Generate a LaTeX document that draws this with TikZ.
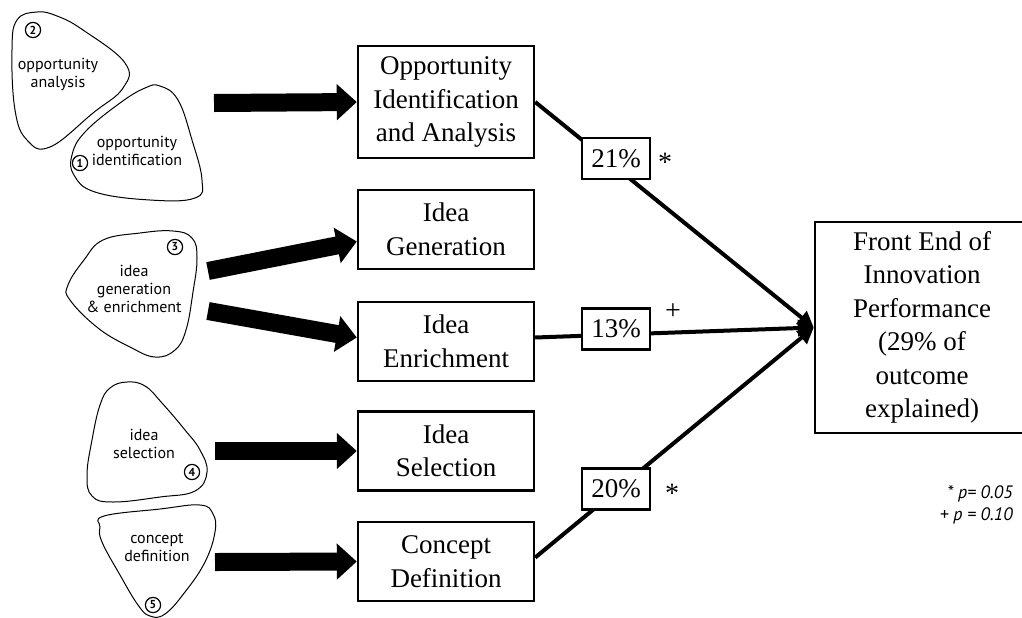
\documentclass[tikz,border=0pt]{standalone}
\usepackage{fontspec}
\setmainfont{Liberation Serif}
\newfontfamily\blobfont{PT Sans}
\usetikzlibrary{arrows.meta,calc}
\tikzset{
  stage/.style={draw, line width=1.2pt, minimum width=88pt, align=center, inner sep=0pt,
    font=\fontsize{13.5}{16.75}\selectfont},
  pct/.style={draw, fill=white, line width=1.2pt, minimum width=34pt, minimum height=20.5pt,
    inner sep=0pt, font=\fontsize{13.5}{16}\selectfont},
  blob/.style={draw, line width=0.5pt},
  blobtext/.style={align=center, inner sep=0pt, font=\blobfont\fontsize{8}{9}\selectfont},
  num/.style={circle, draw, line width=0.6pt, minimum size=7.6pt, inner sep=0pt,
    font=\blobfont\bfseries\fontsize{5.8}{5.8}\selectfont},
  fat/.style={line width=9pt, -{Triangle[width=17.5pt,length=10pt]}},
  link/.style={line width=2pt, -{Triangle[width=8pt,length=8pt]}},
  sig/.style={anchor=base, inner sep=0pt, font=\fontsize{14}{16}\selectfont},
  pnote/.style={anchor=base east, inner sep=0pt, font=\blobfont\itshape\fontsize{9}{10}\selectfont}
}
\begin{document}
\begin{tikzpicture}[x=0.5pt, y=-0.5pt]
\useasboundingbox (0,0) rectangle (1022,617);

% activity blobs
\draw[blob] plot[smooth cycle, tension=0.7] coordinates {(37,12) (57,16) (83,30) (125,63) (123,88)
  (93,113) (50,147) (27,140) (15,110) (12,50) (17,20)};
\draw[blob] plot[smooth cycle, tension=0.7] coordinates {(160,86) (178,100) (192,140) (202,180)
  (195,198) (150,200) (95,192) (74,175) (72,155) (85,132) (120,103) (145,88)};
\draw[blob] plot[smooth cycle, tension=0.7] coordinates {(103,240) (140,233) (173,231) (192,238)
  (197,258) (193,292) (186,330) (175,350) (155,357) (130,347) (98,328) (70,300) (68,285) (84,260)};
\draw[blob] plot[smooth cycle, tension=0.7] coordinates {(127,382) (145,386) (162,403) (185,430)
  (200,450) (207,472) (195,491) (160,497) (113,502) (92,496) (87,475) (92,440) (100,405) (110,388)};
\draw[blob] plot[smooth cycle, tension=0.7] coordinates {(104,516) (160,509) (200,505) (213,514)
  (215,532) (205,562) (185,592) (165,614) (150,616) (138,605) (120,575) (102,542) (100,527)};

\node[blobtext] (oana) at (58,74) {opportunity\\analysis};
\node[blobtext] (oid) at (137,151) {opportunity\\identification};
\node[blobtext] (igen) at (134,289) {idea\\generation\\\& enrichment};
\node[blobtext] (isel) at (144,444) {idea\\selection};
\node[blobtext] (cdef) at (157,548) {concept\\definition};
\node[num] (n2) at (33,30) {2};
\node[num] (n1) at (80,163) {1};
\node[num] (n3) at (175,247) {3};
\node[num] (n4) at (192,472) {4};
\node[num] (n5) at (153,605) {5};

% stages
\node[stage, minimum height=56pt] (oia) at (446,102) {Opportunity\\Identification\\and Analysis};
\node[stage, minimum height=39.5pt] (ig) at (446,229.5) {Idea\\Generation};
\node[stage, minimum height=39.5pt] (ie) at (446,341.5) {Idea\\Enrichment};
\node[stage, minimum height=39.5pt] (is) at (446,451) {Idea\\Selection};
\node[stage, minimum height=39.5pt] (cd) at (446,561.5) {Concept\\Definition};
\node[stage, minimum width=107pt, minimum height=105.5pt] (fe) at (922,327.5)
  {Front End of\\Innovation\\Performance\\(29\% of\\outcome\\explained)};

% block arrows
\coordinate (t1) at (214,103);
\coordinate (t2) at (208,271);
\coordinate (t3) at (208,311);
\coordinate (t4) at (215,451);
\coordinate (t5) at (215,562);
\draw[fat] (t1) -- (oia.west);
\draw[fat] (t2) -- ($(ig.west)+(0,12)$);
\draw[fat] (t3) -- ($(ie.west)+(0,-4)$);
\draw[fat] (t4) -- (is.west);
\draw[fat] (t5) -- (cd.west);

% paths to performance
\draw[link] (oia.east) -- (fe.west);
\draw[link] ($(ie.east)+(0,-4)$) -- (fe.west);
\draw[link] ($(cd.east)+(0,-4)$) -- (fe.west);
\node[pct] (p21) at (616,158.5) {21\%};
\node[pct] (p13) at (616,329) {13\%};
\node[pct] (p20) at (616,489) {20\%};
\node[sig] (s21) at (665,171) {*};
\node[sig] (s13) at (673,319) {+};
\node[sig] (s20) at (672,502) {*};

\node[pnote] (pv1) at (1013,498) {* p= 0.05};
\node[pnote] (pv2) at (1013,520) {+ p = 0.10};
\end{tikzpicture}
\end{document}
